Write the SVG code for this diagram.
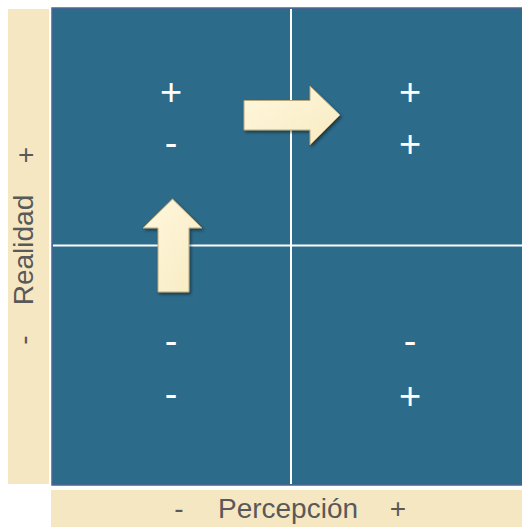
<svg xmlns="http://www.w3.org/2000/svg" width="522" height="527" viewBox="0 0 522 527">
  <style>
    .band { fill: #F6E7C3; }
    .sign { fill: #FFFFFF; font-family: "Liberation Sans", Arial, sans-serif; font-size: 38px; text-anchor: middle; }
    .axis { fill: #595959; font-family: "Liberation Sans", Arial, sans-serif; font-size: 28px; text-anchor: middle; }
    .grid { stroke: #FFFFFF; stroke-width: 2; }
    .arrow { fill: url(#cream); stroke: #B9A87C; stroke-width: 1; filter: url(#shadow); }
  </style>
  <defs>
    <linearGradient id="cream" x1="0" y1="0" x2="1" y2="1">
      <stop offset="0" stop-color="#FFF8DE"/>
      <stop offset="1" stop-color="#F8EBC2"/>
    </linearGradient>
    <filter id="shadow" x="-30%" y="-30%" width="160%" height="160%">
      <feDropShadow dx="1.5" dy="2" stdDeviation="1.5" flood-color="#000000" flood-opacity="0.45"/>
    </filter>
  </defs>

  <!-- axis bands -->
  <g id="axis-y">
    <rect class="band" x="8" y="9" width="41" height="475"/>
    <text class="axis" transform="translate(35,155) rotate(-90)">+</text>
    <text class="axis" transform="translate(33,250) rotate(-90)">Realidad</text>
    <text class="axis" transform="translate(33,340) rotate(-90)">-</text>
  </g>
  <g id="axis-x">
    <rect class="band" x="51" y="490" width="471" height="37"/>
    <text class="axis" x="179" y="518">-</text>
    <text class="axis" x="288" y="518">Percepción</text>
    <text class="axis" x="398" y="518">+</text>
  </g>

  <!-- matrix -->
  <g id="matrix">
    <rect x="52" y="8" width="472" height="477" fill="#2D6B8A" stroke="#4C6594" stroke-width="1.5"/>
    <line class="grid" x1="291" y1="9" x2="291" y2="484"/>
    <line class="grid" x1="53" y1="245.5" x2="522" y2="245.5"/>
  </g>

  <g id="q-top-left">
    <text class="sign" x="171" y="105">+</text>
    <text class="sign" x="171" y="156">-</text>
  </g>
  <g id="q-top-right">
    <text class="sign" x="410" y="105">+</text>
    <text class="sign" x="410" y="157">+</text>
  </g>
  <g id="q-bottom-left">
    <text class="sign" x="171" y="354">-</text>
    <text class="sign" x="171" y="407">-</text>
  </g>
  <g id="q-bottom-right">
    <text class="sign" x="410" y="354">-</text>
    <text class="sign" x="410" y="409">+</text>
  </g>

  <!-- arrows -->
  <g id="connectors">
    <path class="arrow" d="M244,100.5 H310 V86 L340,115 L310,145 V130 H244 Z"/>
    <path class="arrow" d="M158,292 V228 H143 L172.5,199 L202,228 H189 V292 Z"/>
  </g>
</svg>
